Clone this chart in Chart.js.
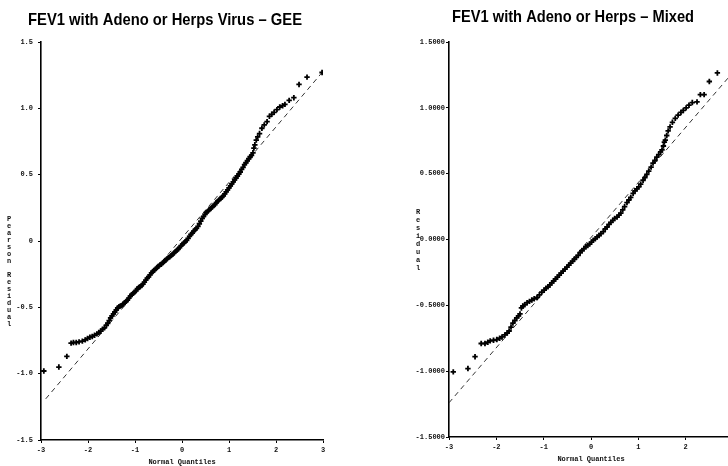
<!DOCTYPE html>
<html>
<head>
<meta charset="utf-8">
<script src="https://cdn.jsdelivr.net/npm/chart.js@4.4.0/dist/chart.umd.min.js"></script>
<style>
  html, body { margin: 0; padding: 0; background: #fff; overflow: hidden; }
  #wrap { position: relative; width: 728px; height: 466px; overflow: hidden; }
  canvas { position: absolute; top: 0; }
  #gee { left: 0; }
  #mixed { left: 364px; }
</style>
</head>
<body>
<div id="wrap">
  <canvas id="gee" width="364" height="466"></canvas>
  <canvas id="mixed" width="420" height="466"></canvas>
</div>
<script>
// GEE model: normal quantiles vs Pearson residuals
const geeQuantiles = [
  -2.94, -2.62, -2.45, -2.36, -2.31, -2.25, -2.19, -2.12, -2.06, -2.01,
  -1.96, -1.91, -1.86, -1.81, -1.77, -1.73, -1.69, -1.65, -1.61, -1.58,
  -1.55, -1.52, -1.49, -1.46, -1.43, -1.40, -1.37, -1.34, -1.31, -1.28,
  -1.25, -1.22, -1.19, -1.16, -1.13, -1.10, -1.07, -1.04, -1.01, -0.98,
  -0.95, -0.92, -0.89, -0.86, -0.83, -0.80, -0.77, -0.74, -0.71, -0.68,
  -0.65, -0.62, -0.59, -0.56, -0.53, -0.50, -0.47, -0.44, -0.41, -0.38,
  -0.35, -0.32, -0.29, -0.26, -0.23, -0.20, -0.17, -0.14, -0.11, -0.08,
  -0.05, -0.02, 0.01, 0.04, 0.07, 0.10, 0.13, 0.16, 0.19, 0.22,
  0.25, 0.28, 0.31, 0.34, 0.37, 0.40, 0.43, 0.46, 0.49, 0.52,
  0.55, 0.58, 0.61, 0.64, 0.67, 0.70, 0.73, 0.76, 0.79, 0.82,
  0.85, 0.88, 0.91, 0.94, 0.97, 1.00, 1.03, 1.06, 1.09, 1.12,
  1.15, 1.18, 1.21, 1.24, 1.27, 1.30, 1.33, 1.36, 1.39, 1.42,
  1.45, 1.48, 1.51, 1.53, 1.55, 1.58, 1.61, 1.65, 1.70, 1.75,
  1.81, 1.86, 1.91, 1.96, 2.02, 2.08, 2.14, 2.19, 2.28, 2.38,
  2.49, 2.66, 2.98
];
const geeResiduals = [
  -0.98, -0.95, -0.87, -0.77, -0.765, -0.765, -0.76, -0.755, -0.745, -0.735,
  -0.725, -0.72, -0.71, -0.70, -0.69, -0.68, -0.665, -0.655, -0.635, -0.62,
  -0.60, -0.58, -0.565, -0.55, -0.535, -0.52, -0.505, -0.495, -0.49, -0.485,
  -0.475, -0.465, -0.455, -0.445, -0.43, -0.415, -0.405, -0.395, -0.385, -0.375,
  -0.36, -0.35, -0.345, -0.335, -0.325, -0.31, -0.295, -0.28, -0.27, -0.255,
  -0.24, -0.23, -0.22, -0.21, -0.20, -0.19, -0.18, -0.175, -0.165, -0.155,
  -0.145, -0.135, -0.125, -0.12, -0.11, -0.10, -0.09, -0.08, -0.07, -0.06,
  -0.05, -0.035, -0.025, -0.015, -0.005, 0.005, 0.02, 0.035, 0.05, 0.06,
  0.075, 0.085, 0.095, 0.11, 0.13, 0.15, 0.17, 0.185, 0.20, 0.215,
  0.225, 0.235, 0.245, 0.255, 0.265, 0.275, 0.29, 0.30, 0.31, 0.32,
  0.33, 0.34, 0.355, 0.37, 0.385, 0.40, 0.415, 0.43, 0.445, 0.46,
  0.475, 0.49, 0.505, 0.52, 0.54, 0.555, 0.575, 0.59, 0.605, 0.62,
  0.635, 0.645, 0.665, 0.70, 0.725, 0.76, 0.785, 0.81, 0.85, 0.875,
  0.90, 0.94, 0.955, 0.97, 0.99, 1.01, 1.02, 1.03, 1.06, 1.08,
  1.18, 1.235, 1.27
];
// reference line ends
const geeRefQuantiles = [-2.9, 2.98];
const geeRefResiduals = [-1.19, 1.27];

// mixed model: normal quantiles vs residuals
const mixedQuantiles = [
  -2.91, -2.60, -2.45, -2.32, -2.24, -2.18, -2.13, -2.06, -1.99, -1.93,
  -1.88, -1.82, -1.77, -1.73, -1.69, -1.65, -1.61, -1.57, -1.53, -1.50,
  -1.47, -1.44, -1.40, -1.35, -1.30, -1.25, -1.20, -1.14, -1.09, -1.04,
  -0.99, -0.95, -0.91, -0.87, -0.83, -0.79, -0.75, -0.71, -0.67, -0.63,
  -0.59, -0.55, -0.51, -0.47, -0.43, -0.39, -0.35, -0.31, -0.27, -0.23,
  -0.19, -0.15, -0.11, -0.07, -0.03, 0.01, 0.05, 0.09, 0.13, 0.17,
  0.21, 0.26, 0.30, 0.34, 0.38, 0.42, 0.46, 0.50, 0.55, 0.59,
  0.63, 0.67, 0.71, 0.76, 0.80, 0.84, 0.89, 0.93, 0.97, 1.01,
  1.05, 1.10, 1.14, 1.18, 1.22, 1.27, 1.31, 1.35, 1.39, 1.43,
  1.47, 1.50, 1.53, 1.55, 1.57, 1.60, 1.63, 1.67, 1.72, 1.78,
  1.84, 1.90, 1.95, 2.01, 2.07, 2.14, 2.24, 2.31, 2.39, 2.50,
  2.67
];
const mixedResiduals = [
  -1.005, -0.98, -0.89, -0.79, -0.79, -0.78, -0.77, -0.765, -0.76, -0.75,
  -0.74, -0.725, -0.71, -0.695, -0.665, -0.635, -0.615, -0.595, -0.58, -0.565,
  -0.52, -0.505, -0.495, -0.48, -0.47, -0.46, -0.45, -0.44, -0.42, -0.40,
  -0.385, -0.37, -0.36, -0.345, -0.33, -0.315, -0.30, -0.285, -0.27, -0.255,
  -0.24, -0.225, -0.21, -0.195, -0.18, -0.165, -0.15, -0.135, -0.12, -0.10,
  -0.085, -0.07, -0.055, -0.045, -0.035, -0.02, -0.005, 0.005, 0.02, 0.03,
  0.045, 0.06, 0.08, 0.095, 0.115, 0.13, 0.145, 0.16, 0.17, 0.185,
  0.20, 0.225, 0.25, 0.28, 0.30, 0.32, 0.35, 0.37, 0.385, 0.40,
  0.42, 0.45, 0.47, 0.495, 0.52, 0.55, 0.58, 0.60, 0.625, 0.645,
  0.665, 0.68, 0.71, 0.74, 0.755, 0.79, 0.825, 0.855, 0.89, 0.92,
  0.945, 0.965, 0.98, 1.00, 1.02, 1.04, 1.045, 1.10, 1.10, 1.20,
  1.265
];
const mixedRefQuantiles = [-3, 3];
const mixedRefResiduals = [-1.24, 1.27];

// axis ticks
const xTicks = [-3, -2, -1, 0, 1, 2, 3];
const yTicks = [-1.5, -1, -0.5, 0, 0.5, 1, 1.5];
const geeYLabels = ['-1.5', '-1.0', '-0.5', '0', '0.5', '1.0', '1.5'];
const mixedYLabels = ['-1.5000', '-1.0000', '-0.5000', '0.0000', '0.5000', '1.0000', '1.5000'];

const tickFont = { family: '"Liberation Mono", "DejaVu Sans Mono", monospace', size: 7, weight: 'bold' };

// titles and stacked axis labels
const qqText = {
  id: 'qqText',
  afterDraw(chart, args, o) {
    const ctx = chart.ctx;
    ctx.save();
    ctx.fillStyle = '#000';
    ctx.font = 'bold 17px "Liberation Sans", Arial, sans-serif';
    ctx.textAlign = 'left';
    ctx.textBaseline = 'alphabetic';
    const w = ctx.measureText(o.title).width;
    ctx.translate(o.titleX, o.titleY);
    ctx.scale(o.titleW / w, 1);
    ctx.fillText(o.title, 0, 0);
    ctx.restore();

    ctx.save();
    ctx.fillStyle = '#111';
    ctx.font = 'bold 7px "Liberation Mono", monospace';
    ctx.textAlign = 'center';
    ctx.textBaseline = 'middle';
    [...o.yLabel].forEach((ch, i) => {
      ctx.fillText(ch, o.yLabelX, o.yLabelY + i * o.yLabelStep);
    });
    ctx.fillText(o.xLabel, o.xLabelX, o.xLabelY);
    ctx.restore();
  }
};

function qqChart(id, quantiles, residuals, refQ, refR, yLabels, box, text) {
  const points = quantiles.map((q, i) => ({ x: q, y: residuals[i] }));
  const ref = refQ.map((q, i) => ({ x: q, y: refR[i] }));
  return new Chart(document.getElementById(id), {
    type: 'scatter',
    data: {
      datasets: [
        {
          data: ref,
          showLine: true,
          borderColor: '#333',
          borderWidth: 1,
          borderDash: [5, 4],
          pointRadius: 0,
          order: 2
        },
        {
          data: points,
          pointStyle: 'cross',
          pointRadius: 2.7,
          borderColor: '#000',
          backgroundColor: '#000',
          borderWidth: 1.8,
          order: 1
        }
      ]
    },
    options: {
      responsive: false,
      animation: false,
      devicePixelRatio: 1,
      events: [],
      layout: { padding: box.padding },
      plugins: {
        legend: { display: false },
        tooltip: { enabled: false },
        qqText: text
      },
      scales: {
        x: {
          type: 'linear',
          min: -3,
          max: 3,
          afterBuildTicks: s => { s.ticks = xTicks.map(v => ({ value: v })); },
          afterFit: s => { s.height = box.xHeight; },
          ticks: { font: tickFont, color: '#111', padding: 3, maxRotation: 0, callback: v => String(v) },
          grid: { drawOnChartArea: false, tickLength: 3, color: '#000' },
          border: { display: true, color: '#000', width: 1.6 }
        },
        y: {
          type: 'linear',
          min: -1.5,
          max: 1.5,
          afterBuildTicks: s => { s.ticks = yTicks.map(v => ({ value: v })); },
          afterFit: s => { s.width = box.yWidth; },
          ticks: { font: tickFont, color: '#111', padding: box.yPad, callback: v => yLabels[yTicks.indexOf(v)] },
          grid: { drawOnChartArea: false, tickLength: 3, color: '#000' },
          border: { display: true, color: '#000', width: 1.6 }
        }
      }
    },
    plugins: [qqText]
  });
}

qqChart('gee', geeQuantiles, geeResiduals, geeRefQuantiles, geeRefResiduals, geeYLabels,
  { padding: { left: 0, top: 42, right: 41, bottom: 0 }, xHeight: 26, yWidth: 41, yPad: 5 },
  {
    title: 'FEV1 with Adeno or Herps Virus \u2013 GEE', titleX: 28, titleY: 25, titleW: 274,
    yLabel: 'Pearson Residual', yLabelX: 9, yLabelY: 219, yLabelStep: 7,
    xLabel: 'Normal Quantiles', xLabelX: 182, xLabelY: 462
  });

qqChart('mixed', mixedQuantiles, mixedResiduals, mixedRefQuantiles, mixedRefResiduals, mixedYLabels,
  { padding: { left: 0, top: 42, right: 51, bottom: 0 }, xHeight: 29, yWidth: 85, yPad: 1 },
  {
    title: 'FEV1 with Adeno or Herps \u2013 Mixed', titleX: 88, titleY: 22, titleW: 242,
    yLabel: 'Residual', yLabelX: 54, yLabelY: 212, yLabelStep: 8,
    xLabel: 'Normal Quantiles', xLabelX: 227, xLabelY: 459
  });
</script>
</body>
</html>
